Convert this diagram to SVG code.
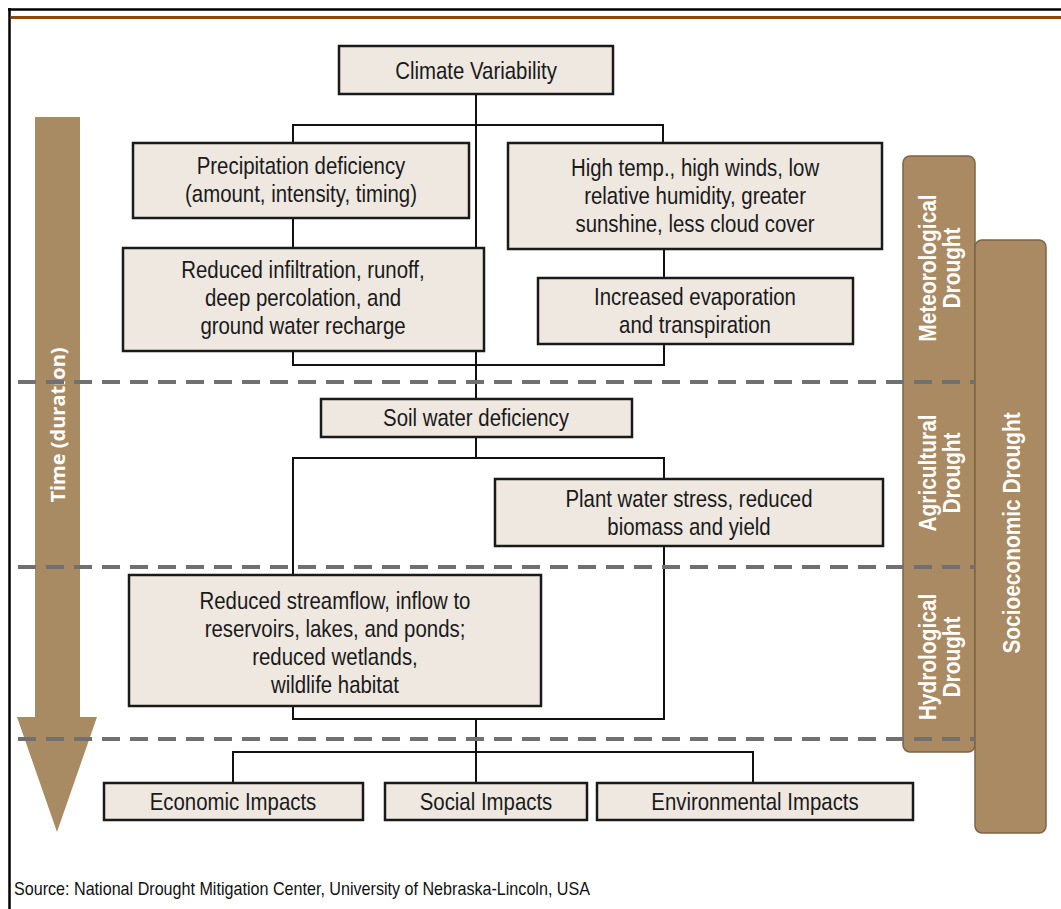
<svg xmlns="http://www.w3.org/2000/svg" width="1061" height="909" viewBox="0 0 1061 909">
<defs>
<style>
.box{fill:#EEE8E1;stroke:#1a1a1a;stroke-width:2.5}
.t{font-family:"Liberation Sans",Arial,sans-serif;font-size:24px;fill:#1a1a1a;text-anchor:middle;transform:scaleX(0.85);transform-box:fill-box;transform-origin:center}
.c{fill:none;stroke:#111;stroke-width:2}
.dash{stroke:#707070;stroke-width:4;stroke-dasharray:18 10;fill:none}
.bar{fill:#A98A62;stroke:#7d6444;stroke-width:1.5}
.bt{font-family:"Liberation Sans",Arial,sans-serif;font-weight:bold;font-size:24px;fill:#fff;text-anchor:middle}
</style>
</defs>
<rect x="0" y="0" width="1061" height="909" fill="#fff"/>
<g id="frame">
<line x1="8" y1="9.5" x2="1061" y2="9.5" stroke="#000" stroke-width="2.5"/>
<line x1="9.5" y1="8" x2="9.5" y2="909" stroke="#000" stroke-width="2.5"/>
<line x1="11" y1="17.5" x2="1061" y2="17.5" stroke="#8B4A0A" stroke-width="3"/>
</g>
<g id="time-arrow">
<polygon points="35,117 80,117 80,717 97,717 57,832 17,717 35,717" fill="#A98B63"/>
<text transform="translate(58,425) rotate(-90)" y="7" style="font-family:'Open Sans','DejaVu Sans',sans-serif;font-weight:bold;font-size:20px;fill:#fff;text-anchor:middle">Time (duration)</text>
</g>
<g id="connectors">
<path class="c" d="M476,94 V400"/>
<path class="c" d="M293,143 V125 H663 V143"/>
<path class="c" d="M293,218 V248"/>
<path class="c" d="M664,249 V278"/>
<path class="c" d="M293,351 V365 H664 V344"/>
<path class="c" d="M293,575 V458 H664 V479"/>
<path class="c" d="M476,437 V458"/>
<path class="c" d="M664,546 V719 H293 V706"/>
<path class="c" d="M476,719 V783"/>
<path class="c" d="M233,783 V752 H753 V783"/>
</g>
<g id="meteorological-bar">
<rect class="bar" x="903" y="156" width="72" height="596" rx="7"/>
</g>
<g id="socioeconomic-bar">
<rect class="bar" x="975" y="240" width="71" height="593" rx="7"/>
<text class="bt" transform="translate(1012,533) rotate(-90) scale(0.87,1)" y="8">Socioeconomic Drought</text>
</g>
<g id="dashes">
<line class="dash" x1="18" y1="382" x2="975" y2="382"/>
<line class="dash" x1="18" y1="567" x2="975" y2="567"/>
<line class="dash" x1="18" y1="739" x2="975" y2="739"/>
</g>
<g id="bar-labels">
<text class="bt" transform="translate(939,268) rotate(-90) scale(0.87,1)"><tspan x="0" y="-3">Meteorological</tspan><tspan x="0" y="21">Drought</tspan></text>
<text class="bt" transform="translate(939,473) rotate(-90) scale(0.87,1)"><tspan x="0" y="-3">Agricultural</tspan><tspan x="0" y="21">Drought</tspan></text>
<text class="bt" transform="translate(939,657) rotate(-90) scale(0.87,1)"><tspan x="0" y="-3">Hydrological</tspan><tspan x="0" y="21">Drought</tspan></text>
</g>
<g id="climate">
<rect class="box" x="339" y="46" width="274" height="48"/>
<text class="t" x="476" y="79">Climate Variability</text>
</g>
<g id="precipitation">
<rect class="box" x="133" y="143" width="336" height="75"/>
<text class="t"><tspan x="301" y="174">Precipitation deficiency</tspan><tspan x="301" y="202">(amount, intensity, timing)</tspan></text>
</g>
<g id="hightemp">
<rect class="box" x="508" y="143" width="374" height="106"/>
<text class="t"><tspan x="695" y="176">High temp., high winds, low</tspan><tspan x="695" y="204">relative humidity, greater</tspan><tspan x="695" y="232">sunshine, less cloud cover</tspan></text>
</g>
<g id="infiltration">
<rect class="box" x="123" y="248" width="361" height="103"/>
<text class="t"><tspan x="303" y="278">Reduced infiltration, runoff,</tspan><tspan x="303" y="306">deep percolation, and</tspan><tspan x="303" y="334">ground water recharge</tspan></text>
</g>
<g id="evaporation">
<rect class="box" x="538" y="278" width="315" height="66"/>
<text class="t"><tspan x="695" y="305">Increased evaporation</tspan><tspan x="695" y="333">and transpiration</tspan></text>
</g>
<g id="soil">
<rect class="box" x="321" y="399" width="311" height="38"/>
<text class="t" x="476" y="426">Soil water deficiency</text>
</g>
<g id="plant">
<rect class="box" x="495" y="479" width="388" height="67"/>
<text class="t"><tspan x="689" y="507">Plant water stress, reduced</tspan><tspan x="689" y="535">biomass and yield</tspan></text>
</g>
<g id="streamflow">
<rect class="box" x="129" y="575" width="412" height="131"/>
<text class="t"><tspan x="335" y="609">Reduced streamflow, inflow to</tspan><tspan x="335" y="637">reservoirs, lakes, and ponds;</tspan><tspan x="335" y="665">reduced wetlands,</tspan><tspan x="335" y="693">wildlife habitat</tspan></text>
</g>
<g id="economic">
<rect class="box" x="104" y="783" width="259" height="37"/>
<text class="t" x="233" y="810">Economic Impacts</text>
</g>
<g id="social">
<rect class="box" x="385" y="783" width="202" height="37"/>
<text class="t" x="486" y="810">Social Impacts</text>
</g>
<g id="environmental">
<rect class="box" x="597" y="783" width="316" height="37"/>
<text class="t" x="755" y="810">Environmental Impacts</text>
</g>
<text x="14" y="895" textLength="576" lengthAdjust="spacingAndGlyphs" style="font-family:'Liberation Sans',Arial,sans-serif;font-size:19px;fill:#111">Source: National Drought Mitigation Center, University of Nebraska-Lincoln, USA</text>
</svg>
